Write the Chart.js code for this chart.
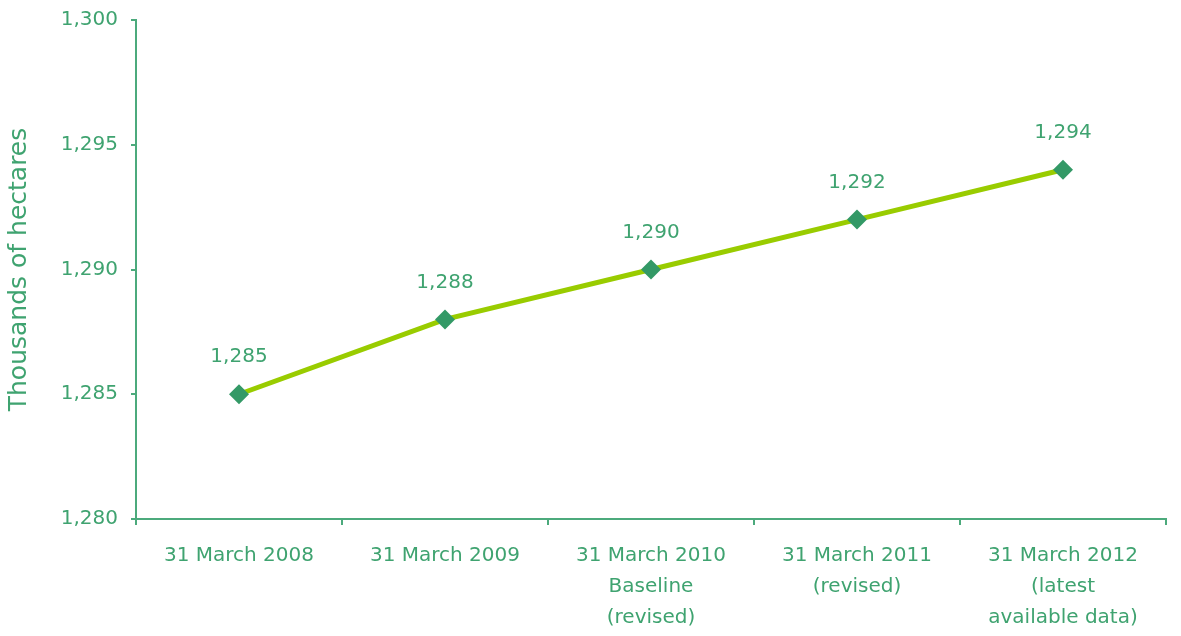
<!DOCTYPE html>
<html>
<head>
<meta charset="utf-8">
<script src="https://cdn.jsdelivr.net/npm/chart.js@4/dist/chart.umd.min.js"></script>
<style>
  html, body { margin: 0; padding: 0; background: #fff; }
  #wrap { width: 1181px; height: 636px; }
</style>
</head>
<body>
<div id="wrap"><canvas id="chart"></canvas></div>
<script>
const categories = [
  ['31 March 2008'],
  ['31 March 2009'],
  ['31 March 2010', 'Baseline', '(revised)'],
  ['31 March 2011', '(revised)'],
  ['31 March 2012', '(latest', 'available data)'],
];
const hectares = [1285, 1288, 1290, 1292, 1294];
const yTicks = { min: 1280, max: 1300, step: 5 };

const GREEN_TEXT = '#3fa370';
const GREEN_AXIS = '#4caa7c';
const MARKER = '#339966';
const LINE = '#99cc00';
const FONT = 'DejaVu Sans';

// value labels above each point
const pointLabels = {
  id: 'pointLabels',
  afterDatasetsDraw(chart) {
    const ctx = chart.ctx;
    const meta = chart.getDatasetMeta(0);
    ctx.save();
    ctx.font = '20px "' + FONT + '"';
    ctx.fillStyle = GREEN_TEXT;
    ctx.textAlign = 'center';
    ctx.textBaseline = 'middle';
    meta.data.forEach((pt, i) => {
      ctx.fillText(hectares[i].toLocaleString('en-US'), pt.x, pt.y - 37);
    });
    ctx.restore();
  }
};

new Chart(document.getElementById('chart'), {
  type: 'line',
  data: {
    labels: categories,
    datasets: [{
      data: hectares,
      borderColor: LINE,
      borderWidth: 5,
      tension: 0,
      pointStyle: 'rectRot',
      pointRadius: 10,
      pointHoverRadius: 10,
      pointBackgroundColor: MARKER,
      pointBorderColor: MARKER,
      pointBorderWidth: 0,
    }],
  },
  options: {
    responsive: true,
    maintainAspectRatio: false,
    animation: false,
    layout: { padding: { top: 20, right: 15, left: 0, bottom: 0 } },
    plugins: {
      legend: { display: false },
      tooltip: { enabled: false },
    },
    scales: {
      x: {
        type: 'category',
        offset: true,
        afterFit(scale) { scale.height = 117; },
        grid: {
          offset: true,
          drawOnChartArea: false,
          color: GREEN_AXIS,
          lineWidth: 2,
          tickLength: 6,
        },
        border: { color: GREEN_AXIS, width: 2 },
        ticks: {
          color: GREEN_TEXT,
          padding: 15,
          maxRotation: 0,
          autoSkip: false,
          font: { family: FONT, size: 20, lineHeight: 1.55 },
        },
      },
      y: {
        min: yTicks.min,
        max: yTicks.max,
        afterFit(scale) {
          scale.width = 136;
          scale.paddingTop = 0;
        },
        grid: {
          drawOnChartArea: false,
          color: GREEN_AXIS,
          lineWidth: 2,
          tickLength: 5,
        },
        border: { color: GREEN_AXIS, width: 2 },
        ticks: {
          stepSize: yTicks.step,
          color: GREEN_TEXT,
          padding: 13,
          font: { family: FONT, size: 20 },
          callback: (v) => v.toLocaleString('en-US'),
        },
        title: {
          display: true,
          text: 'Thousands of hectares',
          color: GREEN_TEXT,
          padding: { top: 4, bottom: 0 },
          font: { family: FONT, size: 25 },
        },
      },
    },
  },
  plugins: [pointLabels],
});
</script>
</body>
</html>
